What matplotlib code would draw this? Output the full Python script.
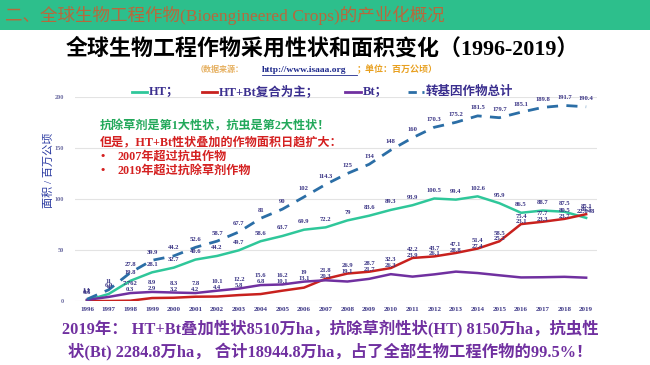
import matplotlib
matplotlib.use("Agg")
import matplotlib.pyplot as plt
from matplotlib.patches import Rectangle
from matplotlib.lines import Line2D

years = list(range(1996, 2020))
total = [1.7, 11, 27.8, 39.9, 44.2, 52.6, 58.7, 67.7, 81, 90, 102, 114.3, 125, 134, 148,
         160, 170.3, 175.2, 181.5, 179.7, 185.1, 189.8, 191.7, 190.4]
ht = [0.6, 6.9, 19.8, 28.1, 32.7, 40.6, 44.2, 49.7, 58.6, 63.7, 69.9, 72.2, 79, 83.6, 89.3,
      93.9, 100.5, 99.4, 102.6, 95.9, 86.5, 88.7, 87.5, 81.5]
stacked = [0, 0, 0.3, 2.9, 3.2, 4.2, 4.4, 5.8, 6.8, 10.1, 13.1, 21.8, 26.9, 28.7, 32.3,
           42.2, 43.7, 47.1, 51.4, 58.5, 75.4, 77.7, 80.5, 85.1]
bt = [1.1, 4.0, 7.762, 8.9, 8.3, 7.8, 10.1, 12.2, 15.6, 16.2, 19, 20.3, 19.1, 21.7, 26.3,
      23.9, 26.1, 28.8, 27.4, 25.2, 23.1, 23.3, 23.7, 22.848]
yticks = [0, 50, 100, 150, 200]

C_HT = "#2fc79a"
C_ST = "#c8211e"
C_BT = "#7030a0"
C_TOT = "#2b6ea6"
C_LBL = "#3b3585"
CJK = ["Liberation Serif", "Noto Sans CJK SC"]

W, H = 650, 365
fig = plt.figure(figsize=(6.5, 3.65), dpi=100)
fig.patch.set_facecolor("white")

def fx(px):
    return px / W

def fy(py):
    return 1 - py / H

# header band
fig.patches.append(Rectangle((0, fy(30)), 1, 30 / H, transform=fig.transFigure,
                             facecolor="#2dbf8c", edgecolor="none", zorder=0))
fig.text(fx(5), fy(15), "二、全球生物工程作物(Bioengineered Crops)的产业化概况",
         family=CJK, fontsize=12.6, color="#b8683c", va="center", ha="left")

# title
fig.text(fx(322), fy(49), "全球生物工程作物采用性状和面积变化（1996-2019）",
         family=CJK, fontsize=15.8, fontweight="bold", color="black", va="center", ha="center")

# subtitle
fig.text(fx(196), fy(70), "（数据来源：", family=CJK, fontsize=5.8, fontweight="bold",
         color="#e6b060", va="center", ha="left")
fig.text(fx(262), fy(70), "http://www.isaaa.org", family=CJK, fontsize=6.8, fontweight="bold",
         color="#1f2a8c", va="center", ha="left")
fig.lines.append(Line2D([fx(262), fx(357)], [fy(75), fy(75)], transform=fig.transFigure,
                        color="#1f2a8c", lw=0.6))
fig.text(fx(357), fy(70), "；单位：百万公顷）", family=CJK, fontsize=6.5, fontweight="bold",
         color="#e8a020", va="center", ha="left")

# axes
ax = fig.add_axes([fx(75), fy(301), fx(597) - fx(75), fy(97) - fy(301)])
ax.set_xlim(1995.45, 2019.5)
ax.set_ylim(0, 200)
for s in ax.spines.values():
    s.set_visible(False)
ax.set_yticks(yticks)
ax.set_yticklabels([str(v) for v in yticks], family="Liberation Serif", fontsize=4.5,
                   color="#6a6aa0", fontweight="bold")
ax.set_xticks(years)
ax.set_xticklabels([str(y) for y in years], family="Liberation Serif", fontsize=5,
                   fontweight="bold", color=C_LBL)
ax.tick_params(length=0, pad=4)
ax.tick_params(axis="y", pad=8)
ax.grid(axis="y", color="#e3e3e3", lw=0.8)
ax.set_axisbelow(True)

ax.plot(years, ht, color=C_HT, lw=1.8, zorder=3)
ax.plot(years, stacked, color=C_ST, lw=1.8, zorder=3)
ax.plot(years, bt, color=C_BT, lw=1.8, zorder=3)
ax.plot(years, total, color=C_TOT, lw=2.0, ls=(0, (4, 3)), zorder=3)

def fmt(v):
    if abs(v - round(v)) < 1e-9:
        return str(int(round(v)))
    return ("%.3f" % v).rstrip("0").rstrip(".")

lbl_kw = dict(textcoords="offset points", ha="center", va="bottom",
              family="Liberation Serif", fontsize=4.8, fontweight="bold", color=C_LBL, zorder=4)
for x, v in zip(years, total):
    ax.annotate(fmt(v), (x, v), xytext=(0, 4), **lbl_kw)
for x, v in zip(years, ht):
    ax.annotate(fmt(v), (x, v), xytext=(0, 4), **lbl_kw)
for x, v, b in zip(years, stacked, bt):
    if v <= 0:
        continue
    if v < b:
        ax.annotate(fmt(v), (x, b), xytext=(0, 0.5), **lbl_kw)
    else:
        ax.annotate(fmt(v), (x, v), xytext=(0, 4), **lbl_kw)
for x, v, s in zip(years, bt, stacked):
    if v < s:
        ax.annotate(fmt(v), (x, s), xytext=(0, 0), **lbl_kw)
    else:
        ax.annotate(fmt(v), (x, v), xytext=(0, 5), **lbl_kw)

# y label
fig.text(fx(49), fy(170), "面积 / 百万公顷", family=CJK, fontsize=8, color="#2838a0",
         rotation=90, va="center", ha="center")

# legend
leg_y = fy(92)
entries = [(132, 147, C_HT, "-", "HT；"),
           (202, 217, C_ST, "-", "HT+Bt复合为主；"),
           (345, 361, C_BT, "-", "Bt；"),
           (408, 424, C_TOT, (0, (3, 2)), "转基因作物总计")]
for x0, x1, c, ls, t in entries:
    fig.lines.append(Line2D([fx(x0), fx(x1)], [leg_y, leg_y], transform=fig.transFigure,
                            color=c, lw=2, ls=ls))
    fig.text(fx(x1 + 2), leg_y, t, family=CJK, fontsize=9, fontweight="bold",
             color="#3b2f8f", va="center", ha="left")

# annotations
ann = 8.7
fig.text(fx(100), fy(126), "抗除草剂是第1大性状，抗虫是第2大性状！", family=CJK, fontsize=ann,
         fontweight="bold", color="#22a85a", va="center", ha="left")
fig.text(fx(100), fy(142), "但是，HT+Bt性状叠加的作物面积日趋扩大：", family=CJK, fontsize=ann,
         fontweight="bold", color="#d42020", va="center", ha="left")
fig.text(fx(101), fy(157), "•", family=CJK, fontsize=ann, fontweight="bold", color="#d42020",
         va="center", ha="left")
fig.text(fx(118), fy(157), "2007年超过抗虫作物", family=CJK, fontsize=ann, fontweight="bold",
         color="#d42020", va="center", ha="left")
fig.text(fx(101), fy(171), "•", family=CJK, fontsize=ann, fontweight="bold", color="#d42020",
         va="center", ha="left")
fig.text(fx(118), fy(171), "2019年超过抗除草剂作物", family=CJK, fontsize=ann, fontweight="bold",
         color="#d42020", va="center", ha="left")

# bottom text
fig.text(fx(62), fy(328), "2019年： HT+Bt叠加性状8510万ha，抗除草剂性状(HT) 8150万ha，抗虫性",
         family=CJK, fontsize=11.75, fontweight="bold", color="#7030a0", va="center", ha="left")
fig.text(fx(68), fy(352), "状(Bt) 2284.8万ha， 合计18944.8万ha，占了全部生物工程作物的99.5%！",
         family=CJK, fontsize=11.75, fontweight="bold", color="#7030a0", va="center", ha="left")

fig.savefig("out.png", dpi=100)
